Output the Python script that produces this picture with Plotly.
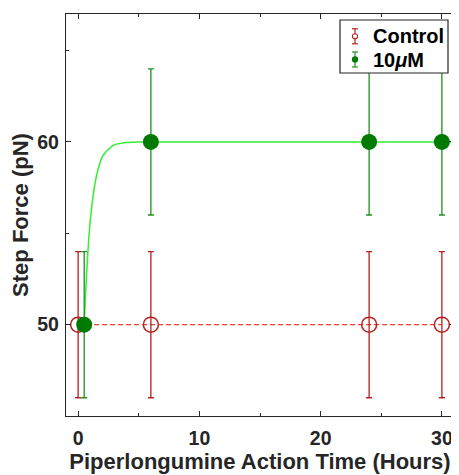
import plotly.graph_objects as go

# Data
ctrl_t = [0, 6, 24, 30]
ctrl_f = [50, 50, 50, 50]
ctrl_err = [4, 4, 4, 4]

drug_t = [0.5, 6, 24, 30]
drug_f = [50, 60, 60, 60]
drug_err = [4, 4, 4, 4]

# fitted curve
fit_t = [0.5, 0.6, 0.75, 0.9, 1.0, 1.25, 1.5, 1.75, 2.0, 2.5, 3.0, 3.5, 4.0, 5.0, 31]
fit_f = [50, 51.5, 53.4, 54.9, 55.7, 57.1, 58.1, 58.75, 59.2, 59.6, 59.85, 59.92, 59.97, 60, 60]

legend_names = ["Control", "10<i>μ</i>M"]

RED = "#b5211e"
RED_DASH = "#e8413c"
GREEN = "#007a00"
GREEN_ERR = "#1f8f1f"
LIME = "#33ee33"
FONT = "Liberation Sans, Arial, sans-serif"

# page-pixel geometry of the plot area (body margin of 8 px included)
PX_L, PX_R, PX_T, PX_B = 66, 454, 14, 416


def px(xp):
    return (xp - PX_L) / (PX_R - PX_L)


def py(yp):
    return (PX_B - yp) / (PX_B - PX_T)


fig = go.Figure()

fig.add_trace(go.Scatter(x=ctrl_t, y=ctrl_f, mode="lines",
                         line=dict(color=RED_DASH, width=1.3, dash="5px,3px"),
                         showlegend=False, hoverinfo="skip"))
fig.add_trace(go.Scatter(x=fit_t, y=fit_f, mode="lines",
                         line=dict(color=LIME, width=1.5, shape="spline", smoothing=0.6),
                         showlegend=False, hoverinfo="skip"))
fig.add_trace(go.Scatter(x=ctrl_t, y=ctrl_f, mode="markers", name=legend_names[0],
                         marker=dict(symbol="circle-open", size=15, color=RED, line=dict(width=1.5, color=RED)),
                         error_y=dict(type="data", array=ctrl_err, color=RED, thickness=1.3, width=3),
                         showlegend=False))
fig.add_trace(go.Scatter(x=drug_t, y=drug_f, mode="markers", name=legend_names[1],
                         marker=dict(symbol="circle", size=16, color=GREEN),
                         error_y=dict(type="data", array=drug_err, color=GREEN_ERR, thickness=1.3, width=3),
                         showlegend=False))

# hand-built legend (box, error-bar glyphs, labels)
shapes = [dict(type="rect", xref="paper", yref="paper",
               x0=px(340), x1=px(448), y0=py(73), y1=py(20),
               fillcolor="white", line=dict(color="#262626", width=1.2), layer="above")]
annotations = []
glyphs = [(36.3, RED, False), (59.5, GREEN_ERR, True)]
for (yc, col, filled), name in zip(glyphs, legend_names):
    xc = 355
    shapes.append(dict(type="line", xref="paper", yref="paper", x0=px(xc), x1=px(xc),
                       y0=py(yc - 7.5), y1=py(yc + 7.5), line=dict(color=col, width=1.2), layer="above"))
    for yy in (yc - 7.5, yc + 7.5):
        shapes.append(dict(type="line", xref="paper", yref="paper", x0=px(xc - 3), x1=px(xc + 3),
                           y0=py(yy), y1=py(yy), line=dict(color=col, width=1.2), layer="above"))
    shapes.append(dict(type="circle", xref="paper", yref="paper",
                       x0=px(xc - 2.6), x1=px(xc + 2.6), y0=py(yc + 2.6), y1=py(yc - 2.6),
                       fillcolor=(GREEN if filled else "white"),
                       line=dict(color=(GREEN if filled else RED), width=1.1), layer="above"))
    annotations.append(dict(xref="paper", yref="paper", x=px(371), y=py(yc), xanchor="left", yanchor="middle",
                            text="<b>" + name + "</b>", showarrow=False,
                            font=dict(family=FONT, size=20, color="black")))

axis_common = dict(showline=True, linecolor="#262626", linewidth=1.3, mirror="allticks",
                   ticks="inside", ticklen=5, tickcolor="#262626", tickwidth=1.2,
                   showgrid=False, zeroline=False,
                   tickfont=dict(family=FONT, size=19.5, color="#262626", weight="bold"))

fig.update_layout(
    width=451, height=467,
    margin=dict(l=58, r=5, t=6, b=59),
    paper_bgcolor="white", plot_bgcolor="white",
    font=dict(family=FONT, color="#262626"),
    showlegend=False,
    xaxis=dict(range=[-1, 31], tickvals=[0, 10, 20, 30], ticklabelstandoff=4,
               minor=dict(ticks="inside", ticklen=3, tickvals=[5, 15, 25], tickcolor="#262626"),
               title=dict(text="<b>Piperlongumine Action Time (Hours)</b>", font=dict(size=22), standoff=4),
               **axis_common),
    yaxis=dict(range=[45, 67], tickvals=[50, 60], ticklabelstandoff=2,
               minor=dict(ticks="inside", ticklen=3, tickvals=[55, 65], tickcolor="#262626"),
               title=dict(text="<b>Step Force (pN)</b>", font=dict(size=22), standoff=6),
               **axis_common),
    shapes=shapes,
    annotations=annotations,
)

fig.write_html("out.html")
